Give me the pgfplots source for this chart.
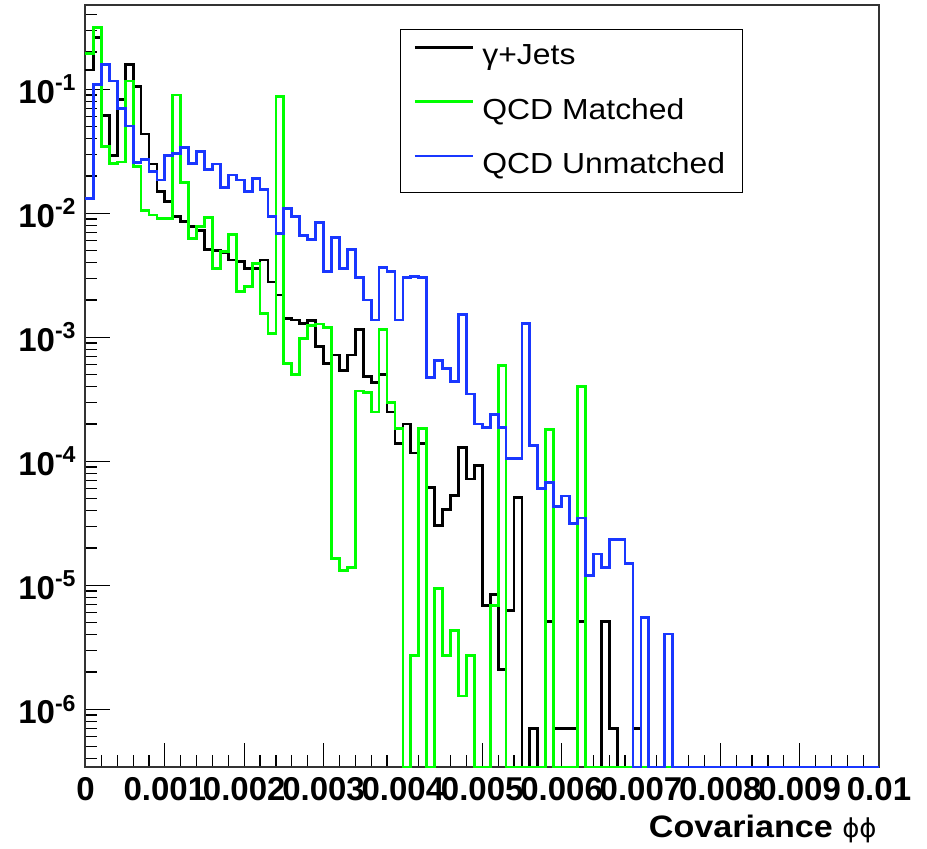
\documentclass[border=0pt]{standalone}
\usepackage{fontspec}
\setmainfont{Liberation Sans}
\newfontfamily\tickfont{Liberation Sans}
\newfontfamily\legfont[FakeStretch=1.1]{Liberation Sans}
\newfontfamily\titlefont[FakeStretch=1.1]{Liberation Sans}
\newfontfamily\symfont{DejaVu Sans}
\usepackage{pgfplots}
\pgfplotsset{compat=1.18}
\usepackage{pgfplotstable}
\definecolor{rootgreen}{RGB}{0,255,0}
\definecolor{rootblue}{RGB}{25,55,255}

% gamma + Jets (zero bins drawn at the axis floor 3.43e-7)
\pgfplotstableread{
x y
0.0000 0.143
0.0001 0.262
0.0002 0.062
0.0003 0.0295
0.0004 0.083
0.0005 0.159
0.0006 0.106
0.0007 0.0436
0.0008 0.025
0.0009 0.0149
0.0010 0.0124
0.0011 0.0095
0.0012 0.0086
0.0013 0.0078
0.0014 0.0073
0.0015 0.0051
0.0016 0.0050
0.0017 0.0048
0.0018 0.0042
0.0019 0.0041
0.0020 0.0036
0.0021 0.0036
0.0022 0.0042
0.0023 0.0028
0.0024 0.0022
0.0025 0.00142
0.0026 0.00138
0.0027 0.00130
0.0028 0.00137
0.0029 0.00084
0.0030 0.00062
0.0031 0.00072
0.0032 0.00054
0.0033 0.00072
0.0034 0.00115
0.0035 0.00048
0.0036 0.00043
0.0037 0.00050
0.0038 0.00025
0.0039 0.00014
0.0040 0.00020
0.0041 0.000117
0.0042 0.00014
0.0043 6.2e-5
0.0044 3.06e-5
0.0045 4.1e-5
0.0046 5.3e-5
0.0047 0.00013
0.0048 7.2e-5
0.0049 9.2e-5
0.0050 6.9e-6
0.0051 8.5e-6
0.0052 2.1e-6
0.0053 6.3e-6
0.0054 5.1e-5
0.0055 3.43e-7
0.0056 7e-7
0.0057 3.43e-7
0.0058 5.1e-6
0.0059 7e-7
0.0060 7e-7
0.0061 7e-7
0.0062 5.1e-6
0.0063 3.43e-7
0.0064 3.43e-7
0.0065 5.1e-6
0.0066 7e-7
0.0067 3.43e-7
0.0068 3.43e-7
0.0069 7e-7
0.0070 3.43e-7
0.0100 3.43e-7
}\blackdata

% QCD Matched
\pgfplotstableread{
x y
0.0000 0.195
0.0001 0.314
0.0002 0.0345
0.0003 0.0253
0.0004 0.026
0.0005 0.117
0.0006 0.0238
0.0007 0.0106
0.0008 0.0097
0.0009 0.0091
0.0010 0.0091
0.0011 0.090
0.0012 0.0177
0.0013 0.0063
0.0014 0.0078
0.0015 0.0092
0.0016 0.0036
0.0017 0.0049
0.0018 0.0068
0.0019 0.00233
0.0020 0.00256
0.0021 0.00396
0.0022 0.00156
0.0023 0.00108
0.0024 0.087
0.0025 0.00062
0.0026 0.00050
0.0027 0.00098
0.0028 0.00125
0.0029 0.00128
0.0030 0.00120
0.0031 1.65e-5
0.0032 1.31e-5
0.0033 1.4e-5
0.0034 0.00037
0.0035 0.000357
0.0036 0.00025
0.0037 0.00116
0.0038 0.00030
0.0039 0.000185
0.0040 3.43e-7
0.0041 2.7e-6
0.0042 0.000185
0.0043 3.43e-7
0.0044 9.5e-6
0.0045 2.7e-6
0.0046 4.3e-6
0.0047 1.28e-6
0.0048 2.7e-6
0.0049 3.43e-7
0.0050 3.43e-7
0.0051 6.9e-6
0.0052 0.00059
0.0053 3.43e-7
0.0054 3.43e-7
0.0055 3.43e-7
0.0056 3.43e-7
0.0057 3.43e-7
0.0058 0.00018
0.0059 3.43e-7
0.0060 3.43e-7
0.0061 3.43e-7
0.0062 0.00040
0.0063 3.43e-7
0.0100 3.43e-7
}\greendata

% QCD Unmatched
\pgfplotstableread{
x y
0.0000 0.0132
0.0001 0.110
0.0002 0.159
0.0003 0.117
0.0004 0.070
0.0005 0.0506
0.0006 0.0256
0.0007 0.0272
0.0008 0.0217
0.0009 0.0186
0.0010 0.0295
0.0011 0.0304
0.0012 0.034
0.0013 0.0253
0.0014 0.0316
0.0015 0.0226
0.0016 0.025
0.0017 0.0162
0.0018 0.0204
0.0019 0.0186
0.0020 0.0149
0.0021 0.0191
0.0022 0.0156
0.0023 0.0095
0.0024 0.0069
0.0025 0.0110
0.0026 0.0094
0.0027 0.0066
0.0028 0.0062
0.0029 0.0085
0.0030 0.0034
0.0031 0.0064
0.0032 0.0036
0.0033 0.0051
0.0034 0.00305
0.0035 0.0020
0.0036 0.00138
0.0037 0.00366
0.0038 0.0034
0.0039 0.00138
0.0040 0.00305
0.0041 0.0031
0.0042 0.00305
0.0043 0.000475
0.0044 0.00065
0.0045 0.00056
0.0046 0.00044
0.0047 0.00154
0.0048 0.00035
0.0049 0.00020
0.0050 0.000188
0.0051 0.00024
0.0052 0.000188
0.0053 0.000106
0.0054 0.000106
0.0055 0.0013
0.0056 0.000135
0.0057 6.05e-5
0.0058 6.8e-5
0.0059 4.3e-5
0.0060 5.25e-5
0.0061 3.16e-5
0.0062 3.5e-5
0.0063 1.21e-5
0.0064 1.79e-5
0.0065 1.4e-5
0.0066 2.35e-5
0.0067 2.35e-5
0.0068 1.49e-5
0.0069 3.43e-7
0.0070 5.5e-6
0.0071 3.43e-7
0.0072 3.43e-7
0.0073 4.05e-6
0.0074 3.43e-7
0.0100 3.43e-7
}\bluedata

\begin{document}
\begin{tikzpicture}
\begin{axis}[
  name=ax,
  scale only axis,
  width=396.75pt, height=381pt,
  xmin=0, xmax=0.01,
  ymode=log, ymin=3.43e-7, ymax=0.479,
  clip=false,
  axis line style={line width=1pt, black!80},
  tick pos=left,
  tick align=inside,
  major tick length=12pt, minor tick length=6pt,
  every tick/.style={black, line width=0.6pt},
  xtick={0,0.001,0.002,0.003,0.004,0.005,0.006,0.007,0.008,0.009,0.01},
  xticklabels={0,0.001,0.002,0.003,0.004,0.005,0.006,0.007,0.008,0.009,0.01},
  minor x tick num=4,
  scaled x ticks=false,
  ytick={1e-6,1e-5,1e-4,1e-3,1e-2,1e-1},
  yticklabels={10\textsuperscript{-6},10\textsuperscript{-5},10\textsuperscript{-4},10\textsuperscript{-3},10\textsuperscript{-2},10\textsuperscript{-1}},
  minor ytick={4e-7,5e-7,6e-7,7e-7,8e-7,9e-7,
    2e-6,3e-6,4e-6,5e-6,6e-6,7e-6,8e-6,9e-6,
    2e-5,3e-5,4e-5,5e-5,6e-5,7e-5,8e-5,9e-5,
    2e-4,3e-4,4e-4,5e-4,6e-4,7e-4,8e-4,9e-4,
    2e-3,3e-3,4e-3,5e-3,6e-3,7e-3,8e-3,9e-3,
    2e-2,3e-2,4e-2,5e-2,6e-2,7e-2,8e-2,9e-2,
    2e-1,3e-1,4e-1},
  tick label style={font=\tickfont\bfseries\fontsize{16.5}{18}\selectfont},
  yticklabel style={inner xsep=4.25pt, inner ysep=0pt},
  xticklabel style={inner sep=0pt, yshift=-5pt},
  xlabel={Covariance {\symfont\mdseries\fontsize{13}{15}\selectfont ϕϕ}},
  xlabel style={at={(axis description cs:1,0)}, anchor=base east, yshift=-35pt, xshift=-1pt, inner sep=0pt,
    font=\titlefont\bfseries\fontsize{15.5}{18}\selectfont},
  legend style={at={(axis description cs:0.3963,0.9685)}, anchor=north west,
    draw=black, line width=0.6pt, fill=white,
    inner xsep=6.5pt, inner ysep=5.6pt, row sep=11.3pt,
    font=\legfont\fontsize{14.5}{16}\selectfont},
  legend cell align=left,
  legend image code/.code={\draw[#1, line width=1.4pt] (0pt,4.5pt) -- (29pt,4.5pt); \path (31pt,0pt);},
]
\addplot[const plot, black, line width=1.4pt] table[x=x,y=y] {\blackdata};
\addlegendentry{γ+Jets}
\addplot[const plot, rootgreen, line width=1.4pt] table[x=x,y=y] {\greendata};
\addlegendentry{QCD Matched}
\addplot[const plot, rootblue, line width=1.4pt] table[x=x,y=y] {\bluedata};
\addlegendentry{QCD Unmatched}
\end{axis}
\pgfresetboundingbox
\path[use as bounding box] ([shift={(-42.75pt,-41pt)}]ax.south west) rectangle ([shift={(24pt,2.5pt)}]ax.north east);
\end{tikzpicture}
\end{document}
